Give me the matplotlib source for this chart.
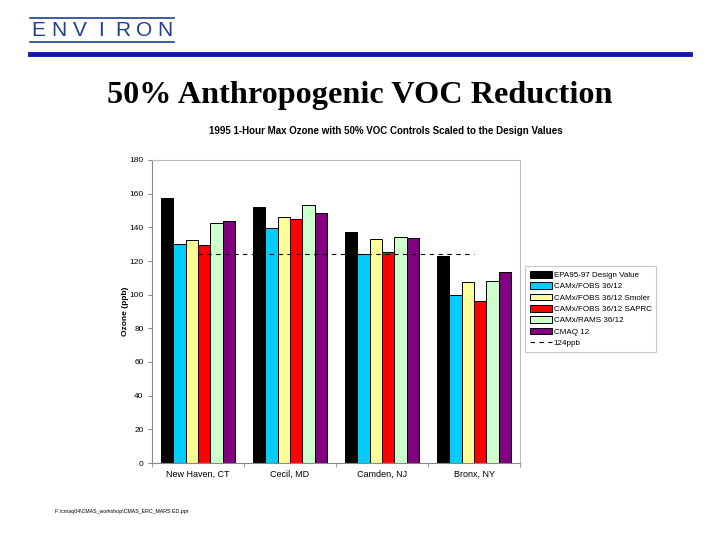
import matplotlib
matplotlib.use("Agg")
import matplotlib.pyplot as plt
import numpy as np
from matplotlib.lines import Line2D

categories = ["New Haven, CT", "Cecil, MD", "Camden, NJ", "Bronx, NY"]
series_names = ["EPA95-97 Design Value", "CAMx/FOBS 36/12", "CAMx/FOBS 36/12 Smoler",
                "CAMx/FOBS 36/12 SAPRC", "CAMx/RAMS 36/12", "CMAQ 12"]
epa = [157.3, 152.1, 137.1, 123.0]
camx_fobs = [130.3, 139.6, 124.0, 99.7]
camx_smoler = [132.3, 146.0, 132.9, 107.6]
camx_saprc = [129.4, 144.8, 125.4, 96.3]
camx_rams = [142.4, 153.1, 134.3, 108.2]
cmaq = [143.8, 148.5, 133.7, 113.5]
threshold = [124, 124, 124, 124]
threshold_label = "124ppb"
yticks = [0, 20, 40, 60, 80, 100, 120, 140, 160, 180]
logo_letters = "ENVIRON"

series = [epa, camx_fobs, camx_smoler, camx_saprc, camx_rams, cmaq]
colors = ["#000000", "#00CCFF", "#FFFF99", "#FF0000", "#CCFFCC", "#800080"]

fig = plt.figure(figsize=(7.2, 5.4), dpi=100)
fig.patch.set_facecolor("white")

# Header logo
logo_color = "#1F3F8A"
fig.add_artist(Line2D([30/720, 174/720], [1-18/540, 1-18/540], color=logo_color, lw=1.2))
fig.add_artist(Line2D([30/720, 174/720], [1-42/540, 1-42/540], color=logo_color, lw=1.2))
for k, ch in enumerate(logo_letters):
    cx = 38 + k * (165 - 38) / (len(logo_letters) - 1)
    fig.text(cx/720, 1-30.5/540, ch, ha="center", va="center", fontsize=15,
             color=logo_color, family="Liberation Sans")
fig.add_artist(Line2D([30/720, 690/720], [1-53.5/540, 1-53.5/540], color="#1414B4", lw=3.5))

fig.text(360/720, 1-95/540, "50% Anthropogenic VOC Reduction", ha="center", va="center",
         fontsize=23.2, fontweight="bold", family="Liberation Serif")
fig.text(385.5/720, 1-131/540, "1995 1-Hour Max Ozone with 50% VOC Controls Scaled to the Design Values",
         ha="center", va="center", fontsize=7.0, fontweight="bold", family="Liberation Sans")

ax = fig.add_axes([152/720, 1-463/540, (520-152)/720, (463-160)/540])
x = np.arange(len(categories))
n = len(series)
group_w = 0.81
bw = group_w / n
for i, (vals, c, name) in enumerate(zip(series, colors, series_names)):
    ax.bar(x - group_w/2 + bw*(i+0.5), vals, width=bw, color=c, edgecolor="black",
           linewidth=0.7, label=name)
ax.plot(x, threshold, color="black", linestyle=(0, (4, 4)), linewidth=0.8, label=threshold_label)

ax.set_xlim(-0.5, len(categories)-0.5)
ax.set_ylim(0, 180)
ax.set_yticks(yticks)
ax.set_xticks(x)
ax.set_xticklabels(categories, fontsize=6.5, family="Liberation Sans")
ax.set_xticks(np.arange(len(categories)+1) - 0.5, minor=True)
ax.tick_params(axis="x", which="major", length=0, pad=5)
ax.tick_params(axis="x", which="minor", length=3, color="#888888")
ax.tick_params(axis="y", labelsize=6, length=3, color="#888888", pad=3)
for lab in ax.get_yticklabels():
    lab.set_family("Liberation Sans")
ax.set_ylabel("Ozone (ppb)", fontsize=6, fontweight="bold", family="Liberation Sans", labelpad=0.5)
for s in ["left", "bottom"]:
    ax.spines[s].set_color("#888888")
for s in ["top", "right"]:
    ax.spines[s].set_color("#BBBBBB")
for s in ax.spines.values():
    s.set_linewidth(0.8)

handles, labels = ax.get_legend_handles_labels()
order = list(range(1, len(handles))) + [0]
leg = fig.legend([handles[i] for i in order], [labels[i] for i in order],
                 loc="upper left", bbox_to_anchor=(525/720, 1-266/540),
                 frameon=True, fancybox=False, handlelength=2.8,
                 handleheight=0.9, labelspacing=0.4, borderpad=0.6, handletextpad=0.15,
                 borderaxespad=0, prop={"family": "Liberation Sans", "size": 5.8})
leg.get_frame().set_edgecolor("#BBBBBB")
leg.get_frame().set_linewidth(0.8)

fig.text(55/720, 1-512/540, r"F:\cmaq04\CMAS_workshop\CMAS_ERC_MARS ED.ppt", ha="left",
         va="center", fontsize=3.8, family="Liberation Sans")

fig.savefig("out.png", dpi=100, facecolor="white")
